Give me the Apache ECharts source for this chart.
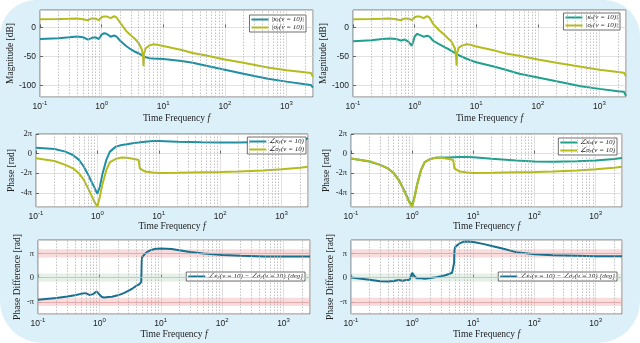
<!DOCTYPE html>
<html>
<head>
<meta charset="utf-8">
<script src="https://cdn.jsdelivr.net/npm/echarts@6/dist/echarts.min.js"></script>
<style>
  html, body { margin: 0; padding: 0; background: #fff; }
  #chart { width: 640px; height: 343px; }
</style>
</head>
<body>
<div id="chart"></div>
<script>
// frequency range of every panel
const xMin = 0.1;
const xMax = 2700;

// magnitude rows [dB]
const freqMag = [0.1, 0.2, 0.3, 0.4, 0.5, 0.6, 0.7, 0.8, 0.9, 1.0, 1.1, 1.2, 1.4, 1.6, 1.75, 2, 2.5, 3, 3.5, 4, 4.5, 4.7, 4.8, 4.9, 5.2, 6, 7, 8, 10, 20, 30, 50, 100, 200, 500, 1000, 2000, 2500, 2650, 2700];
const magKappaY = [-20, -18.5, -17, -15.5, -17, -21, -18, -17, -20, -12.5, -10, -11, -16, -14, -16, -23, -32, -38, -42, -45, -48, -49, -50, -50.5, -51.5, -53, -53.8, -54, -54.5, -58, -61, -66, -73, -80, -88.5, -93.5, -98, -99.5, -100, -104];
const magSigmaYL = [14, 14.5, 15, 15.5, 14, 12.5, 15.5, 15, 12.5, 17.5, 19, 19, 16, 19.5, 17, 8, -6, -14, -20, -27, -38, -50, -67, -45, -36, -31, -29, -30, -32, -39, -44, -48.5, -55.5, -61, -69, -74, -77.5, -78.5, -79, -85];
const magKappaX = [-24, -22, -20, -19, -20, -22.5, -21, -25, -32, -16, -11, -13, -16, -14.5, -16, -23, -29, -33.5, -37, -41, -44, -45.5, -46, -46.5, -48, -51, -54, -56.5, -60, -68, -73, -80, -86.5, -93, -101.5, -106, -110, -111, -111.5, -118];
const magSigmaYR = [14, 14.5, 15, 15.5, 14, 12.5, 15.5, 15, 12.5, 17.5, 19, 19, 16, 19.5, 17, 6, -5, -12, -19, -25, -36, -49, -66, -44, -35, -31, -29, -30, -33, -40, -45, -49, -55.5, -61, -68, -73, -77, -78, -78.5, -84];

// phase rows [rad], stored in units of pi
const freqPhase = [0.1, 0.2, 0.3, 0.4, 0.5, 0.6, 0.7, 0.8, 0.9, 1.0, 1.1, 1.2, 1.4, 1.6, 2, 2.5, 3, 4, 4.7, 4.8, 4.9, 5, 6, 8, 10, 20, 50, 100, 200, 500, 1000, 2000, 2700];
const phKappaY = [0.6, 0.47, 0.2, -0.14, -0.64, -1.32, -2.1, -2.85, -3.5, -4.1, -3.36, -2.17, -0.64, 0.2, 0.71, 0.88, 0.95, 1.08, 1.13, 1.14, 1.14, 1.15, 1.22, 1.29, 1.29, 1.22, 1.15, 1.13, 1.13, 1.18, 1.25, 1.4, 1.55];
const phSigmaYL = [-0.47, -0.75, -1.15, -1.5, -2.0, -2.68, -3.5, -4.27, -4.95, -5.4, -4.37, -3.2, -1.66, -0.88, -0.54, -0.4, -0.42, -0.55, -0.65, -0.68, -1.5, -1.66, -1.83, -1.93, -1.97, -1.95, -1.9, -1.87, -1.83, -1.72, -1.6, -1.45, -1.35];
const phKappaX = [-0.5, -0.8, -1.15, -1.5, -2.0, -2.65, -3.45, -4.2, -4.9, -5.3, -4.35, -3.2, -1.66, -0.88, -0.54, -0.42, -0.4, -0.4, -0.38, -0.38, -0.38, -0.37, -0.35, -0.34, -0.37, -0.52, -0.7, -0.8, -0.82, -0.78, -0.7, -0.55, -0.44];
const phSigmaYR = [-0.49, -0.77, -1.15, -1.5, -2.0, -2.7, -3.5, -4.3, -5.0, -5.45, -4.4, -3.2, -1.66, -0.88, -0.54, -0.4, -0.42, -0.55, -0.65, -0.68, -1.5, -1.66, -1.83, -1.93, -1.97, -1.95, -1.9, -1.87, -1.83, -1.72, -1.6, -1.45, -1.35];

// phase difference row, units of pi
const freqDiff = [0.1, 0.2, 0.3, 0.4, 0.5, 0.6, 0.7, 0.8, 0.9, 1.0, 1.1, 1.2, 1.4, 1.6, 2, 2.5, 3, 3.5, 4, 4.5, 4.8, 4.85, 4.9, 5, 5.5, 6, 7, 8, 10, 15, 20, 30, 50, 100, 200, 500, 1000, 2000, 2700];
const diffY = [-0.91, -0.84, -0.78, -0.73, -0.67, -0.64, -0.72, -0.67, -0.57, -0.7, -0.8, -0.82, -0.8, -0.79, -0.73, -0.64, -0.54, -0.44, -0.34, -0.27, -0.18, 0.2, 0.7, 0.86, 0.97, 1.06, 1.14, 1.18, 1.2, 1.18, 1.13, 1.06, 0.99, 0.93, 0.9, 0.87, 0.87, 0.87, 0.87];
const diffX = [0.0, -0.09, -0.15, -0.16, -0.14, -0.1, -0.13, -0.1, -0.1, 0.2, 0.04, -0.03, -0.03, -0.05, -0.02, 0.02, 0.06, 0.1, 0.15, 0.2, 0.24, 0.6, 1.0, 1.24, 1.34, 1.41, 1.48, 1.49, 1.47, 1.38, 1.3, 1.2, 1.05, 0.96, 0.92, 0.9, 0.88, 0.88, 0.88];

const bandHalf = 1 / 6;

const legendText = {
  mag_ky: '{m||κ}{s|y}{m|(ν = 10)|}',
  mag_syL: '{m||σ}{s|y}{m|(ν = 10)|}',
  mag_kx: '{m||κ}{s|x}{m|(ν = 10)|}',
  mag_syR: '{m||σ}{s|y}{m|(ν = 10)|}',
  ph_ky: '{m|∠κ}{s|y}{m|(ν = 10)}',
  ph_syL: '{m|∠σ}{s|y}{m|(ν = 10)}',
  ph_kx: '{m|∠κ}{s|x}{m|(ν = 10)}',
  ph_syR: '{m|∠σ}{s|y}{m|(ν = 10)}',
  diff_y: '{m|∠κ}{s|y}{m|(ν = 10) − ∠σ}{s|y}{m|(ν = 10) [deg]}',
  diff_x: '{m|∠κ}{s|x}{m|(ν = 10) − ∠σ}{s|y}{m|(ν = 10) [deg]}'
};

const teal = '#1f8fa3';
const green = '#1ea08c';
const olive = '#b4bc1c';
const navy = '#17708f';
const serif = 'Liberation Serif';
const sans = 'Liberation Sans';

const minorX = [];
for (let e = -1; e <= 3; e++) {
  for (let k = 2; k <= 9; k++) {
    const v = k * Math.pow(10, e);
    if (v < xMax) minorX.push(v);
  }
}

const grids = [
  { left: 40, top: 10, width: 273, height: 87 },
  { left: 353, top: 10, width: 273, height: 87 },
  { left: 36, top: 134, width: 272, height: 73 },
  { left: 351, top: 134, width: 271, height: 73 },
  { left: 38, top: 240, width: 272, height: 74 },
  { left: 351, top: 240, width: 271, height: 74 }
].map(g => Object.assign(g, {
  show: true, backgroundColor: '#fff', borderColor: '#444', borderWidth: 0.7
}));

function xAxis(i, nameGap) {
  return {
    type: 'log', logBase: 10, gridIndex: i, min: xMin, max: xMax,
    name: '{t|Time Frequency }{f|f}', nameLocation: 'middle', nameGap: nameGap,
    nameTextStyle: {
      rich: {
        t: { fontFamily: serif, fontSize: 9.5, color: '#222' },
        f: { fontFamily: serif, fontSize: 9.5, fontStyle: 'italic', color: '#222' }
      }
    },
    axisLine: { show: false },
    axisTick: { inside: true, length: 3, lineStyle: { color: '#333', width: 0.7 } },
    axisLabel: {
      margin: 3, showMaxLabel: false,
      formatter: v => '{b|10}{s|' + Math.round(Math.log10(v)) + '}',
      rich: {
        b: { fontFamily: sans, fontSize: 8.5, color: '#222', lineHeight: 11, verticalAlign: 'bottom' },
        s: { fontFamily: sans, fontSize: 6, color: '#222', lineHeight: 6, verticalAlign: 'top' }
      }
    },
    splitLine: { show: true, lineStyle: { color: '#d6d6d6', width: 0.7 } }
  };
}

function piLabel(v) {
  if (v === 0) return '0';
  if (v === 1) return 'π';
  if (v === -1) return '-π';
  return v + 'π';
}

function yAxis(i, opt) {
  return Object.assign({
    type: 'value', gridIndex: i,
    nameLocation: 'middle', nameRotate: 90,
    nameTextStyle: { fontFamily: serif, fontSize: 9.5, color: '#222' },
    axisLine: { show: false },
    axisTick: { show: true, inside: true, length: 3, lineStyle: { color: '#333', width: 0.7 } },
    splitLine: { show: true, lineStyle: { color: '#d6d6d6', width: 0.7 } }
  }, opt);
}

const magY = {
  min: -120, max: 30, minInterval: 50, maxInterval: 50, name: 'Magnitude [dB]', nameGap: 21,
  axisLabel: { fontFamily: sans, fontSize: 8.5, color: '#222', margin: 4, showMinLabel: false, showMaxLabel: false }
};
const phY = {
  min: -5.45, max: 2, minInterval: 2, maxInterval: 2, name: 'Phase [rad]', nameGap: 14,
  axisLabel: { fontFamily: serif, fontSize: 8.5, color: '#222', margin: 4, showMinLabel: false, formatter: piLabel }
};
const diffAxisY = {
  min: -1.5, max: 1.55, minInterval: 1, maxInterval: 1, name: 'Phase Difference [rad]', nameGap: 16,
  axisLabel: { fontFamily: serif, fontSize: 8.5, color: '#222', margin: 4, showMinLabel: false, showMaxLabel: false, formatter: piLabel }
};

const minorLines = minorX.map(v => ({ xAxis: v }));

function line(name, freqs, vals, color, i, withBands) {
  const s = {
    type: 'line', name: name, xAxisIndex: i, yAxisIndex: i,
    data: freqs.map((f, k) => [f, vals[k]]),
    symbol: 'none', smooth: false, z: 3,
    lineStyle: { color: color, width: 2 }, itemStyle: { color: color }
  };
  if (withBands !== undefined) {
    let lines = minorLines.slice();
    if (withBands) {
      lines = lines.concat([
        { yAxis: 1, lineStyle: { color: '#e9a3a3', type: 'solid', width: 0.8 } },
        { yAxis: -1, lineStyle: { color: '#e9a3a3', type: 'solid', width: 0.8 } },
        { yAxis: 0, lineStyle: { color: '#b5cdbd', type: 'solid', width: 0.8 } }
      ]);
      s.markArea = {
        silent: true,
        data: [
          [{ yAxis: 1 - bandHalf, itemStyle: { color: 'rgba(236,140,140,0.3)' } }, { yAxis: 1 + bandHalf }],
          [{ yAxis: -1 - bandHalf, itemStyle: { color: 'rgba(236,140,140,0.3)' } }, { yAxis: -1 + bandHalf }],
          [{ yAxis: -bandHalf, itemStyle: { color: 'rgba(170,210,180,0.3)' } }, { yAxis: bandHalf }]
        ]
      };
    }
    s.markLine = {
      silent: true, symbol: 'none', animation: false,
      label: { show: false },
      lineStyle: { color: '#aaaaaa', type: [1.5, 1.5], width: 0.7 },
      data: lines
    };
  }
  return s;
}

function legend(i, names, right, top) {
  return {
    data: names, right: right, top: top, orient: 'vertical',
    backgroundColor: '#fff', borderColor: '#333', borderWidth: 0.7, borderRadius: 0,
    padding: [1, 2, 1, 2], itemGap: 1, itemWidth: 17, itemHeight: 2, icon: 'rect',
    formatter: n => legendText[n],
    textStyle: {
      padding: [0, 0, 0, -2],
      rich: {
        m: { fontFamily: serif, fontStyle: 'italic', fontSize: 7, color: '#222', lineHeight: 8 },
        s: { fontFamily: serif, fontStyle: 'italic', fontSize: 5, color: '#222', lineHeight: 8 }
      }
    }
  };
}

const option = {
  animation: false,
  backgroundColor: '#fff',
  graphic: [{
    type: 'rect', z: -100, silent: true,
    shape: { x: 0, y: 0, width: 640, height: 343, r: [36, 36, 42, 42] },
    style: { fill: '#dcf0fa' }
  }],
  grid: grids,
  xAxis: [xAxis(0, 16), xAxis(1, 16), xAxis(2, 14), xAxis(3, 14), xAxis(4, 15), xAxis(5, 15)],
  yAxis: [
    yAxis(0, magY), yAxis(1, magY),
    yAxis(2, phY), yAxis(3, phY),
    yAxis(4, diffAxisY), yAxis(5, diffAxisY)
  ],
  legend: [
    legend(0, ['mag_ky', 'mag_syL'], 334, 15),
    legend(1, ['mag_kx', 'mag_syR'], 20, 13),
    legend(2, ['ph_ky', 'ph_syL'], 334, 137),
    legend(3, ['ph_kx', 'ph_syR'], 23, 138),
    legend(4, ['diff_y'], 335, 272),
    legend(5, ['diff_x'], 23, 272)
  ],
  series: [
    line('mag_ky', freqMag, magKappaY, teal, 0, false),
    line('mag_syL', freqMag, magSigmaYL, olive, 0),
    line('mag_kx', freqMag, magKappaX, green, 1, false),
    line('mag_syR', freqMag, magSigmaYR, olive, 1),
    line('ph_ky', freqPhase, phKappaY, teal, 2, false),
    line('ph_syL', freqPhase, phSigmaYL, olive, 2),
    line('ph_kx', freqPhase, phKappaX, green, 3, false),
    line('ph_syR', freqPhase, phSigmaYR, olive, 3),
    line('diff_y', freqDiff, diffY, navy, 4, true),
    line('diff_x', freqDiff, diffX, navy, 5, true)
  ]
};

const chart = echarts.init(document.getElementById('chart'));
chart.setOption(option);
</script>
</body>
</html>
